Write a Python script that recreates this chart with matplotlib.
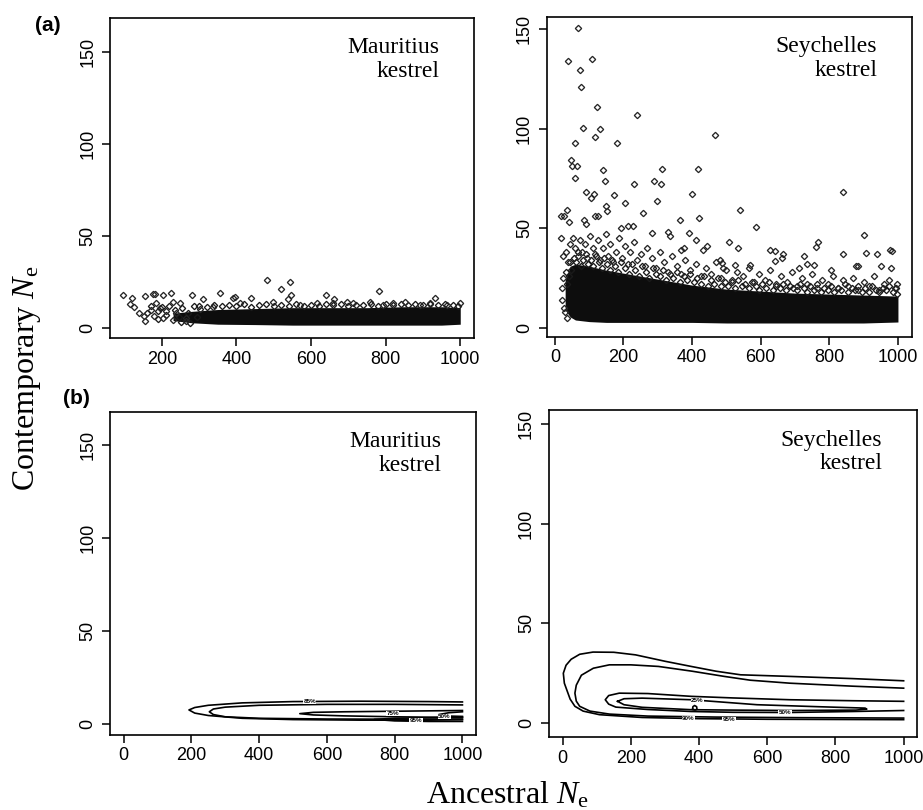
import numpy as np
import matplotlib
matplotlib.use('Agg')
import matplotlib.pyplot as plt

plt.rcParams['font.family'] = ['Liberation Sans', 'DejaVu Sans']
plt.rcParams['mathtext.fontset'] = 'custom'
plt.rcParams['mathtext.rm'] = 'Liberation Serif'
plt.rcParams['mathtext.it'] = 'Liberation Serif:italic'

# ---- panel (a): scatter of simulated Ne values ----
# Mauritius: dense core of the cloud (lower / upper envelope) plus single points
mau_core_x = [230, 280, 350, 450, 550, 650, 750, 850, 950, 1000]
mau_core_lo = [4.0, 2.8, 2.0, 1.8, 1.5, 1.5, 1.5, 1.5, 1.5, 2.0]
mau_core_hi = [8.0, 9.0, 10.0, 10.5, 11.0, 11.0, 11.0, 11.5, 11.5, 11.0]
mau_pts_x = [97, 119, 115, 125, 138, 151, 155, 154, 177, 181, 204, 224, 281, 310,
             355, 390, 397, 438, 481, 519, 543, 547, 538, 640, 782, 931, 662, 1000,
             185, 230, 248, 196, 172, 180, 203, 212, 239, 266, 266, 230, 301, 338,
             409, 498, 570, 615, 696, 713, 758, 821, 852, 893, 920, 965, 660, 794]
mau_pts_y = [17.8, 16.5, 12.9, 11.6, 8.0, 6.6, 4.0, 17.4, 18.3, 18.3, 17.8, 19.2, 17.8, 15.8,
             19.0, 16.2, 16.8, 16.2, 25.9, 21.0, 25.0, 17.9, 15.8, 17.9, 20.2, 16.0, 15.8, 13.3,
             13.4, 14.3, 13.3, 10.8, 10.0, 6.7, 5.4, 9.1, 8.0, 5.4, 3.6, 4.5, 10.4, 11.2,
             13.5, 14.3, 12.5, 13.3, 14.3, 13.3, 14.3, 13.3, 14.3, 12.5, 13.3, 12.5, 13.3, 12.5]
# ragged edge of the Mauritius cloud
mau_edge_x = [300, 320, 340, 360, 380, 400, 420, 440, 460, 480, 500, 520, 540, 560, 580,
              600, 620, 640, 660, 680, 700, 720, 740, 760, 780, 800, 820, 840, 860, 880,
              900, 920, 940, 960, 980, 995,
              160, 170, 190, 200, 210, 220, 235, 245, 255, 270, 285, 295, 250, 275, 190]
mau_edge_y = [12.0, 11.5, 12.5, 11.8, 12.6, 12.0, 12.8, 11.6, 12.4, 12.9, 11.7, 12.6, 12.1,
              13.0, 12.0, 12.7, 11.9, 12.8, 12.2, 13.0, 12.0, 12.7, 12.3, 13.1, 12.1, 12.8,
              12.3, 13.2, 12.2, 12.9, 12.4, 13.0, 12.2, 12.8, 12.5, 12.0,
              8.0, 12.0, 9.0, 11.5, 7.0, 12.0, 10.0, 6.0, 11.0, 8.0, 12.0, 6.0, 3.0, 2.5, 5.0]

# Seychelles: dense core plus outlying points
sey_core_x = [30, 45, 60, 100, 150, 200, 300, 400, 500, 600, 700, 800, 900, 1000]
sey_core_lo = [9.0, 5.5, 4.0, 3.2, 2.8, 2.8, 2.8, 2.8, 2.5, 2.5, 2.5, 2.5, 2.5, 3.0]
sey_core_hi = [24, 31, 32, 31, 29, 27.5, 24.5, 21.5, 19.5, 18.5, 17.5, 17, 16.5, 16]
sey_pts_x = [68, 39, 107, 73, 76, 122, 238, 83, 131, 117, 467, 59, 182, 47, 50, 65, 59, 141,
             311, 416, 146, 231, 290, 309, 92, 115, 172, 401, 839, 105, 205, 299, 541, 34,
             19, 26, 148, 153, 258, 365, 420, 585, 900, 19, 86, 92, 118, 125, 42, 194, 213,
             227, 283, 331, 336, 391, 410, 444, 431, 376, 367, 507, 534, 768, 760, 978, 982,
             907, 939, 839, 727, 627, 642, 666, 661, 950, 981, 879, 885, 734, 756, 805, 712,
             641, 568, 526, 480, 488, 491,
             25, 33, 38, 44, 52, 58, 66, 72, 80, 88, 95, 102, 110, 118, 125, 132, 140, 148,
             155, 162, 170, 178, 186, 195, 204, 212, 220, 230, 240, 250, 262, 270, 282, 295,
             305, 318, 330, 342, 355, 368, 380, 395, 410, 425, 440, 455, 470, 485, 500, 515,
             530, 548, 565, 580, 595, 612, 628, 645, 660, 676, 690, 705, 720, 735, 750, 765,
             780, 795, 810, 825, 840, 855, 870, 885, 900, 915, 930, 945, 960, 975, 990, 998,
             20, 22, 28, 30, 25, 35]
sey_pts_y = [150.3, 133.8, 135.0, 129.6, 121.0, 110.7, 107.0, 100.5, 100.0, 96.0, 97.0, 92.8,
             92.8, 84.0, 81.0, 81.0, 75.0, 79.0, 79.8, 79.8, 73.6, 72.4, 73.7, 72.2, 68.0,
             67.0, 66.6, 67.4, 68.4, 65.0, 62.7, 63.5, 59.4, 59.4, 56.0, 56.0, 61.0, 58.5,
             57.7, 54.3, 55.3, 50.5, 46.7, 45.0, 54.0, 52.0, 56.0, 56.0, 53.0, 50.0, 51.0,
             51.0, 47.7, 48.0, 46.0, 47.7, 44.0, 41.0, 39.0, 40.0, 39.0, 43.0, 40.0, 43.0,
             40.5, 39.0, 38.8, 37.5, 37.0, 37.0, 36.0, 39.0, 38.5, 37.0, 35.0, 31.0, 30.0,
             31.0, 31.0, 32.0, 31.4, 29.0, 30.0, 33.4, 31.8, 31.4, 34.0, 32.6, 30.0,
             36, 38, 33, 42, 45, 40, 36, 44, 38, 42, 35, 46, 40, 37, 44, 34, 40, 47,
             36, 42, 33, 38, 45, 35, 41, 32, 38, 43, 34, 37, 31, 40, 35, 30,
             38, 33, 28, 36, 31, 27, 34, 29, 32, 26, 30, 27, 33, 25, 29, 24,
             28, 26, 30, 23, 27, 24, 29, 22, 26, 23, 28, 21, 25, 22, 27, 20,
             24, 22, 26, 20, 24, 21, 25, 19, 23, 21, 26, 19, 22, 24, 20, 22,
             20, 14, 10, 8, 25, 5]
# ragged edge of the Seychelles cloud
sey_edge_x = [32, 36, 40, 45, 48, 55, 62, 68, 75, 82, 90, 98,
              105, 112, 120, 128, 136, 144, 152, 160, 168, 176, 184, 192,
              205, 215, 225, 235, 245, 255, 265, 275, 285, 295,
              305, 315, 325, 335, 345, 355, 365, 375, 385, 395,
              405, 415, 425, 435, 445, 455, 465, 475, 485, 495,
              505, 515, 525, 535, 545, 555, 565, 575, 585, 595,
              605, 615, 625, 635, 645, 655, 665, 675, 685, 695,
              705, 715, 725, 735, 745, 755, 765, 775, 785, 795,
              805, 815, 825, 835, 845, 855, 865, 875, 885, 895,
              905, 915, 925, 935, 945, 955, 965, 975, 985, 995, 998]
sey_edge_y = [28, 22, 26, 33, 29, 35, 33, 38, 31, 34, 37, 32,
              34, 31, 36, 33, 30, 35, 32, 29, 34, 31, 28, 33,
              30, 27, 32, 29, 26, 31, 28, 25, 30, 27,
              26, 29, 24, 27, 25, 28, 23, 26, 24, 27,
              23, 25, 22, 26, 21, 24, 22, 25, 21, 23,
              21, 23, 20, 24, 21, 22, 20, 23, 21, 19,
              22, 20, 23, 19, 21, 20, 22, 19, 21, 20,
              19, 22, 20, 18, 21, 19, 22, 18, 20, 19,
              21, 18, 20, 19, 22, 18, 20, 19, 21, 18,
              20, 18, 21, 19, 18, 20, 19, 21, 18, 20, 17]

# ---- panel (b): density contours (upper branch right->left, lower branch left->right) ----
mau_contours = [
    ([1000, 900, 700, 500, 350, 250, 210, 193, 210, 250, 350, 500, 700, 900, 1000],
     [11.8, 12.0, 12.2, 12.0, 11.3, 10.0, 8.8, 7.5, 5.8, 4.5, 3.0, 2.3, 2.0, 2.0, 2.2]),
    ([1000, 800, 600, 400, 300, 265, 253, 265, 300, 400, 600, 800, 1000],
     [10.2, 10.5, 10.5, 10.0, 9.0, 8.0, 6.5, 5.0, 3.8, 3.0, 2.6, 2.5, 2.6]),
    ([1000, 900, 800, 650, 560, 520, 560, 650, 800, 900, 1000],
     [7.2, 7.0, 6.8, 6.5, 6.2, 5.5, 4.8, 4.3, 3.8, 3.6, 3.6]),
    ([1000, 900, 800, 740, 800, 900, 1000],
     [3.4, 3.3, 3.0, 2.4, 1.6, 1.3, 1.3]),
    ([1000, 960, 930, 960, 1000],
     [6.5, 6.0, 5.0, 4.2, 4.0]),
]
mau_labels = ['85%', '75%', '95%', '50%']
mau_label_x = [549, 794, 863, 946]
mau_label_y = [12.2, 5.6, 1.6, 4.0]

sey_contours = [
    ([1000, 850, 666, 522, 450, 377, 300, 214, 150, 89, 50, 25, 10, 2, 5, 12, 22, 36, 60,
      108, 233, 400, 600, 800, 1000],
     [21.2, 22.3, 23.4, 24.2, 26.0, 28.4, 31.0, 34.2, 35.5, 35.6, 34.5, 32.0, 29.0, 25.0,
      20.0, 16.7, 12.0, 8.4, 6.0, 4.2, 2.8, 2.2, 1.9, 1.8, 1.7]),
    ([1000, 850, 666, 550, 474, 380, 281, 200, 137, 90, 55, 40, 36, 40, 50, 80, 137, 250,
      450, 700, 1000],
     [17.5, 18.5, 20.0, 21.5, 23.4, 26.0, 28.4, 29.2, 29.2, 27.5, 24.0, 19.0, 15.0, 11.0,
      8.4, 6.0, 4.5, 3.5, 3.0, 2.7, 2.5]),
    ([1000, 850, 666, 500, 377, 250, 166, 135, 125, 135, 156, 250, 377, 500, 666, 850, 1000],
     [10.9, 11.2, 11.7, 12.6, 13.4, 14.8, 15.0, 13.8, 11.7, 9.5, 8.0, 6.8, 5.8, 5.4, 5.3,
      5.8, 6.3]),
    ([161, 180, 233, 377, 470, 570, 750, 887, 892, 860, 666, 500, 377, 233, 180, 161],
     [10.9, 12.2, 12.5, 11.7, 10.5, 9.2, 8.2, 7.5, 7.0, 6.5, 6.3, 6.5, 6.7, 7.9, 9.2, 10.9]),
    ([381, 382, 387, 393, 394, 388, 381],
     [6.9, 8.2, 8.8, 8.2, 6.9, 6.5, 6.9]),
]
sey_labels = ['25%', '50%', '90%', '95%']
sey_label_x = [395, 652, 368, 488]
sey_label_y = [11.2, 5.2, 2.3, 1.7]

serif = ['Liberation Serif', 'DejaVu Serif']


def style_axes(ax, xlim, ylim, xticks):
    """R-like box, outward ticks, rotated y labels."""
    ax.set_xlim(xlim)
    ax.set_ylim(ylim)
    ax.set_xticks(xticks)
    ax.set_yticks([0, 50, 100, 150])
    ax.tick_params(direction='out', length=6, width=1.1, labelsize=13, pad=3)
    ax.tick_params(axis='y', labelrotation=90, pad=4)
    for lbl in ax.get_yticklabels():
        lbl.set_va('center')
    for sp in ax.spines.values():
        sp.set_linewidth(1.2)


def bird_label(ax, name):
    ax.text(0.905, 0.94, name + '\nkestrel', transform=ax.transAxes, ha='right', va='top',
            fontsize=17, family=serif, linespacing=1.15, multialignment='right')


def scatter_panel(ax, core_x, core_lo, core_hi, px, py, ex, ey):
    ax.fill_between(core_x, core_lo, core_hi, color='#0d0d0d', lw=0, zorder=1)
    # points around the edge of the dense cloud
    ax.plot(ex, ey, ls='none', marker='D', ms=3.2, mfc='none', mec='#1a1a1a', mew=0.95, zorder=2)
    ax.plot(px, py, ls='none', marker='D', ms=3.2, mfc='none', mec='#262626', mew=0.95, zorder=2)


def contour_panel(ax, contours, labels, lx, ly):
    for cx, cy in contours:
        ax.plot(cx, cy, color='black', lw=1.2)
    for t, x, y in zip(labels, lx, ly):
        ax.text(x, y, t, fontsize=4.5, fontweight='bold', ha='center', va='center',
                bbox=dict(boxstyle='square,pad=0.05', fc='white', ec='none'))


fig = plt.figure(figsize=(9.23, 8.10), dpi=100)
ax_tl = fig.add_axes([0.1192, 0.5827, 0.3944, 0.3951])
ax_tr = fig.add_axes([0.5926, 0.5840, 0.3955, 0.3951])
ax_bl = fig.add_axes([0.1192, 0.0926, 0.3965, 0.3988])
ax_br = fig.add_axes([0.5948, 0.0901, 0.3990, 0.4037])

scatter_panel(ax_tl, mau_core_x, mau_core_lo, mau_core_hi, mau_pts_x, mau_pts_y,
              mau_edge_x, mau_edge_y)
style_axes(ax_tl, (61, 1037), (-5.5, 168.5), [200, 400, 600, 800, 1000])
bird_label(ax_tl, 'Mauritius')

scatter_panel(ax_tr, sey_core_x, sey_core_lo, sey_core_hi, sey_pts_x, sey_pts_y,
              sey_edge_x, sey_edge_y)
style_axes(ax_tr, (-23, 1041), (-4.5, 156), [0, 200, 400, 600, 800, 1000])
bird_label(ax_tr, 'Seychelles')

contour_panel(ax_bl, mau_contours, mau_labels, mau_label_x, mau_label_y)
style_axes(ax_bl, (-40, 1040), (-6, 168), [0, 200, 400, 600, 800, 1000])
bird_label(ax_bl, 'Mauritius')

contour_panel(ax_br, sey_contours, sey_labels, sey_label_x, sey_label_y)
style_axes(ax_br, (-40, 1040), (-7, 157), [0, 200, 400, 600, 800, 1000])
bird_label(ax_br, 'Seychelles')

# panel letters and shared axis titles
fig.text(35 / 923, 1 - 31 / 810, '(a)', fontsize=15, fontweight='bold', va='baseline')
fig.text(63 / 923, 1 - 404 / 810, '(b)', fontsize=15, fontweight='bold', va='baseline')
fig.text(27 / 923, 1 - 378 / 810, r'Contemporary $\mathit{N}_{\mathrm{e}}$', rotation=90,
         ha='center', va='center', fontsize=23, family=serif)
fig.text(508 / 923, 1 - 803 / 810, r'Ancestral $\mathit{N}_{\mathrm{e}}$', ha='center',
         va='baseline', fontsize=23, family=serif)

fig.savefig('out.png', dpi=100)
